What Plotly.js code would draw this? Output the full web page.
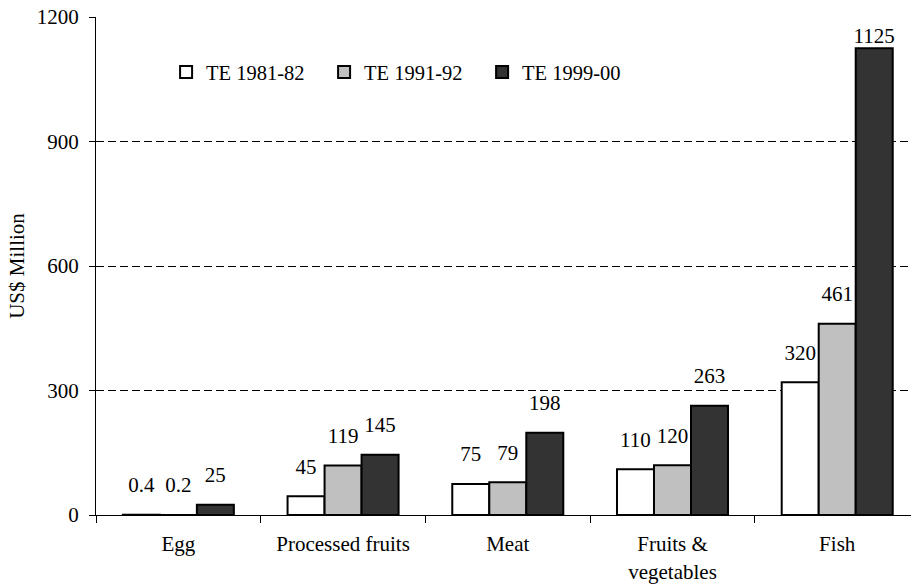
<!DOCTYPE html>
<html>
<head>
<meta charset="utf-8">
<script src="https://cdn.plot.ly/plotly-3.0.1.min.js"></script>
<style>html,body{margin:0;padding:0;background:#fff;}#chart{width:911px;height:587px;}</style>
</head>
<body>
<div id="chart"></div>
<script>
const categories = ["Egg", "Processed fruits", "Meat", "Fruits &<br>vegetables", "Fish"];
const seriesNames = ["TE 1981-82", "TE 1991-92", "TE 1999-00"];
const te1981 = [0.4, 45, 75, 110, 320];
const te1991 = [0.2, 119, 79, 120, 461];
const te1999 = [25, 145, 198, 263, 1125];
const yTicks = [0, 300, 600, 900, 1200];

const seriesValues = [te1981, te1991, te1999];
const fillColors = ["#ffffff", "#c0c0c0", "#333333"];
const FONT = "Liberation Serif, Times New Roman, serif";
const FS = 21;

const traces = [];
seriesValues.forEach((vals, i) => {
  traces.push({
    type: "bar", name: seriesNames[i], x: categories, y: vals,
    marker: {color: fillColors[i], line: {color: "#000", width: 2}},
    hoverinfo: "none", legendgroup: "g" + i
  });
});
seriesValues.forEach((vals, i) => {
  traces.push({
    type: "scatter", mode: "markers+text", x: categories, y: vals,
    text: vals.map(v => String(v)), textposition: "top center",
    textfont: {family: FONT, size: FS, color: "#000"},
    marker: {size: vals.map(v => v > 1100 ? 0 : 26), opacity: 0},
    showlegend: false, hoverinfo: "none", cliponaxis: false
  });
});

const layout = {
  width: 911, height: 587,
  margin: {l: 96, r: 0, t: 17, b: 72},
  paper_bgcolor: "#fff", plot_bgcolor: "#fff",
  font: {family: FONT, size: FS, color: "#000"},
  barmode: "group", bargap: 0.326, bargroupgap: 0,
  scattermode: "group", scattergap: 0.326,
  showlegend: true,
  legend: {orientation: "h", x: 0.086, xanchor: "left", y: 0.889, yanchor: "middle",
           font: {family: FONT, size: 20.5, color: "#000"}, bgcolor: "rgba(0,0,0,0)",
           entrywidth: 113, entrywidthmode: "pixels", traceorder: "normal"},
  xaxis: {
    type: "category", range: [-0.5, 4.448], fixedrange: true,
    showline: true, linecolor: "#000", linewidth: 1,
    ticks: "outside", tickson: "boundaries", ticklen: 7, tickcolor: "#000",
    ticklabelstandoff: 10,
    showgrid: false, zeroline: false,
    tickfont: {family: FONT, size: FS, color: "#000"}
  },
  yaxis: {
    range: [0, 1200], tickvals: yTicks, ticktext: yTicks.map(String),
    showline: true, linecolor: "#000", linewidth: 1,
    ticks: "outside", ticklen: 6, tickcolor: "#000", ticklabelstandoff: 6,
    showgrid: true, gridcolor: "#000", gridwidth: 1, griddash: "8px,4px",
    zeroline: false, automargin: false,
    tickfont: {family: FONT, size: FS, color: "#000"},
    title: {text: "US$ Million", font: {family: FONT, size: FS, color: "#000"}, standoff: 6}
  }
};

Plotly.newPlot("chart", traces, layout, {staticPlot: true, displayModeBar: false});
</script>
</body>
</html>
